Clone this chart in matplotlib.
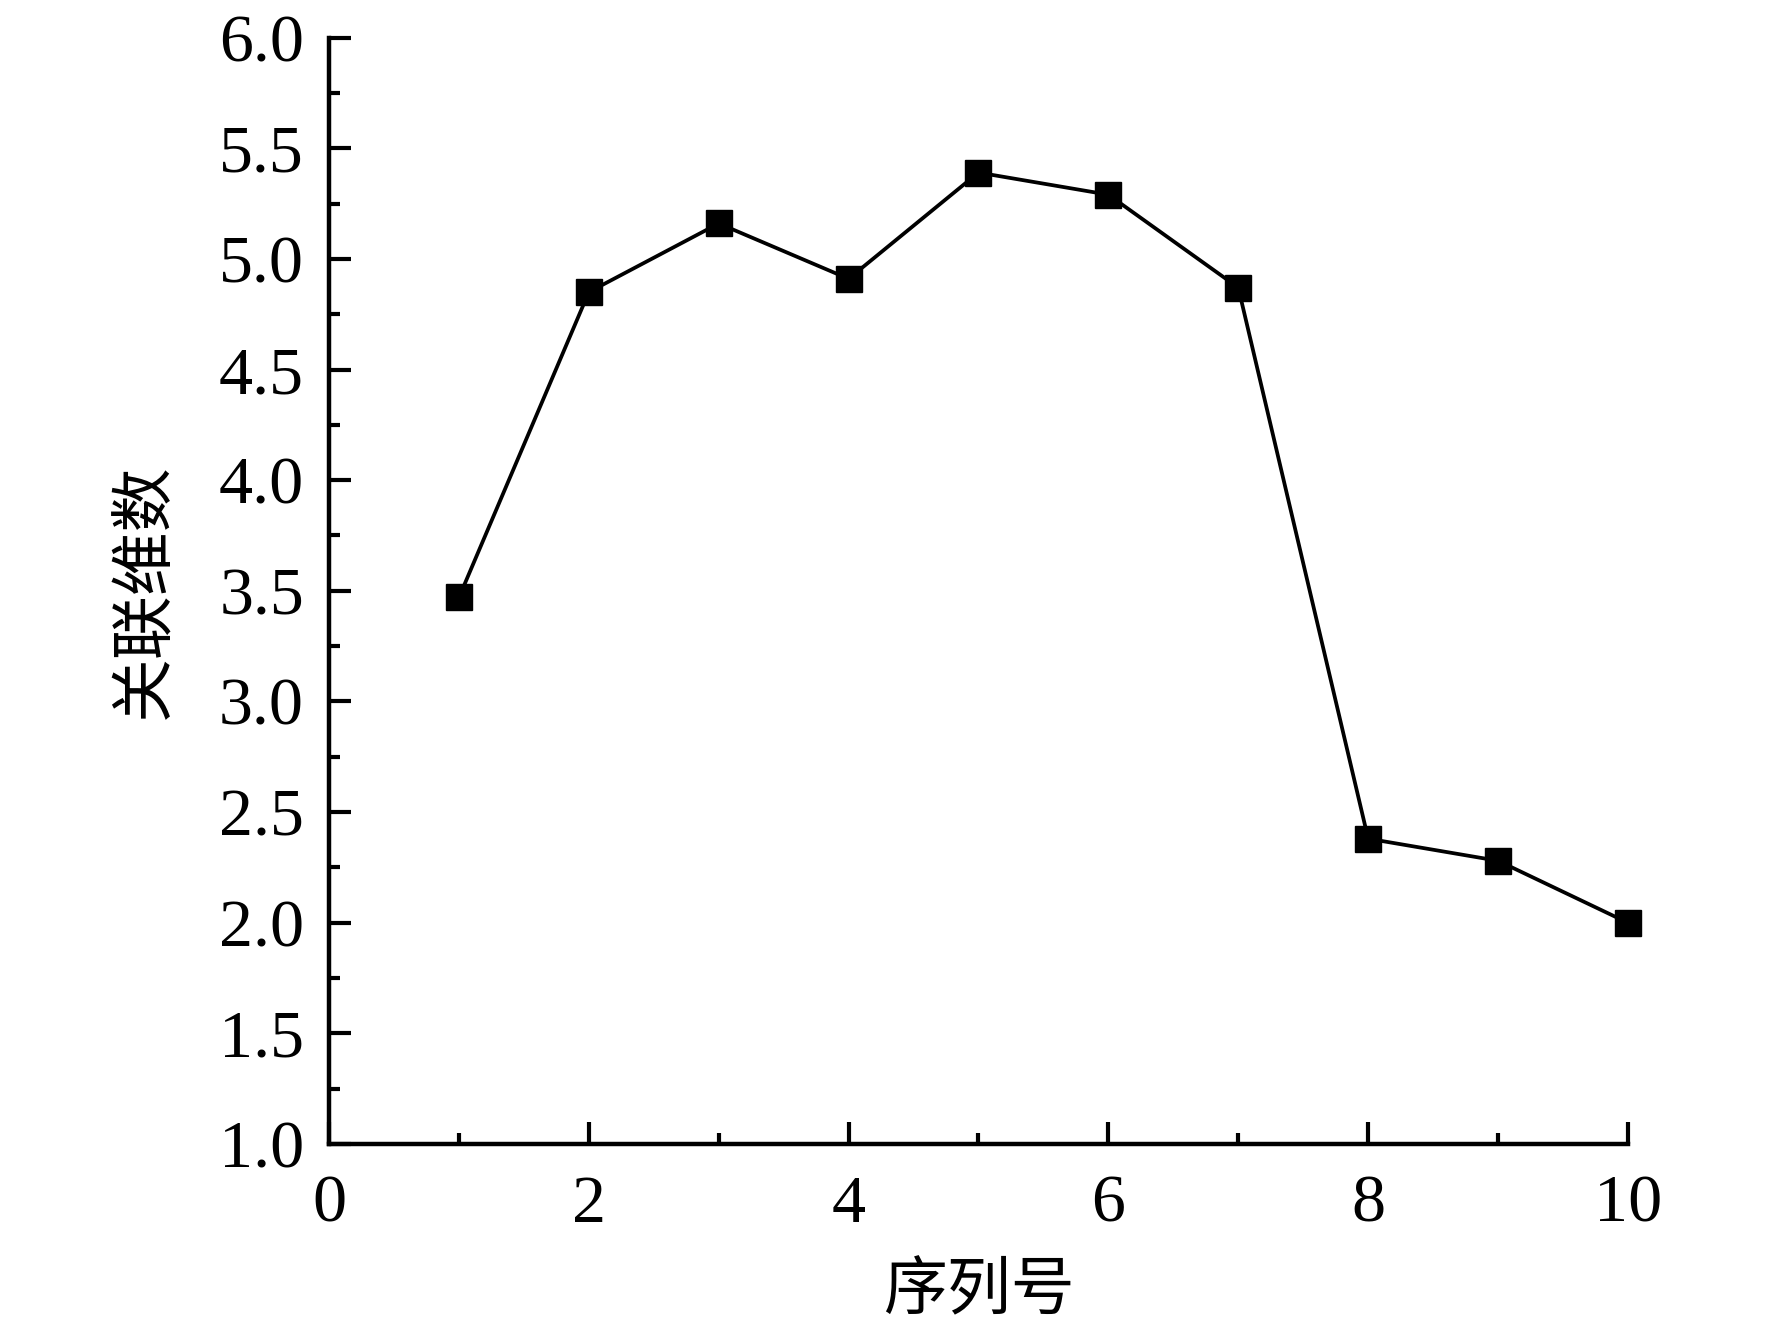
import matplotlib
matplotlib.use("Agg")
import matplotlib.pyplot as plt
from matplotlib.ticker import MultipleLocator

seq = [1, 2, 3, 4, 5, 6, 7, 8, 9, 10]
corr_dim = [3.47, 4.85, 5.16, 4.91, 5.39, 5.29, 4.87, 2.38, 2.28, 2.00]
xlabel = "序列号"
ylabel = "关联维数"

fam = ["Liberation Serif", "Noto Sans CJK SC"]
plt.rcParams['font.family'] = fam
plt.rcParams['mathtext.fontset'] = 'stix'

fig = plt.figure(figsize=(17.72, 13.42), dpi=100)
ax = fig.add_axes([0.1857, 0.1475, 0.733, 0.8245])

ax.plot(seq, corr_dim, color='black', linewidth=2.7, marker='s', markersize=19,
        markerfacecolor='black', markeredgecolor='black', clip_on=False)

ax.set_xlim(0, 10)
ax.set_ylim(1.0, 6.0)
ax.xaxis.set_major_locator(MultipleLocator(2))
ax.xaxis.set_minor_locator(MultipleLocator(1))
ax.yaxis.set_major_locator(MultipleLocator(0.5))
ax.yaxis.set_minor_locator(MultipleLocator(0.25))
ax.yaxis.set_major_formatter(matplotlib.ticker.FormatStrFormatter('%.1f'))

for s in ['top', 'right']:
    ax.spines[s].set_visible(False)
for s in ['left', 'bottom']:
    ax.spines[s].set_linewidth(3.2)

ax.tick_params(which='major', direction='in', length=16, width=3.0, labelsize=49, pad=18)
ax.tick_params(which='minor', direction='in', length=8, width=3.0)
ax.tick_params(axis='x', which='major', pad=22)

ax.set_xlabel(xlabel, fontsize=46, family=fam, labelpad=20)
ax.set_ylabel(ylabel, fontsize=46, family=fam, labelpad=30)

fig.savefig("out.png", dpi=100, facecolor='white')
